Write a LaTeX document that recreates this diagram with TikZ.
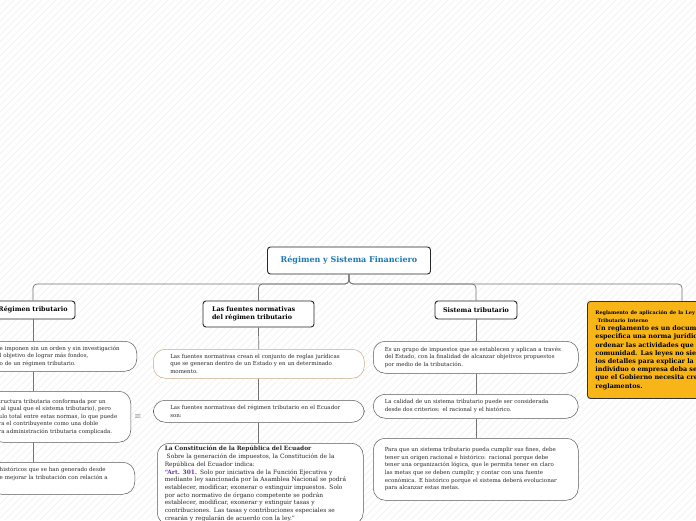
\documentclass[tikz,border=0pt]{standalone}
\usepackage{fontspec}
\setmainfont{DejaVu Serif}
\usepackage{xcolor}
\usetikzlibrary{positioning, calc}

\definecolor{titleblue}{RGB}{28,120,182}
\definecolor{artpurple}{RGB}{112,48,160}
\definecolor{noteyellow}{RGB}{247,181,24}
\definecolor{tanline}{RGB}{200,170,130}

\begin{document}
\begin{tikzpicture}[
        x=1pt, y=-1pt,
        topic/.style={rectangle, draw=black!85, line width=0.9pt, rounded corners=3pt, fill=white, align=center, font=\bfseries\fontsize{6.4}{8}\selectfont},
        leaf/.style={rectangle, draw=black!65, line width=0.5pt, rounded corners=12pt, fill=white, align=left, inner ysep=3pt, text=black!85, font=\fontsize{5.5}{7.6}\selectfont},
        link/.style={draw=black!55, line width=0.7pt},
        hatch/.style={draw=black!6, line width=0.4pt}
    ]

    \useasboundingbox (0,0) rectangle (696,520);
    \clip (0,0) rectangle (696,520);
    \fill[white] (0,0) rectangle (696,520);
    \foreach \i in {-520,-513,...,700}
        \draw[hatch] (\i,520) -- (\i+520,0);

    \node (root) [topic, minimum width=163pt, minimum height=27pt, text=titleblue, font=\bfseries\fontsize{8}{10}\selectfont] at (349,260.5) {Régimen y Sistema Financiero};

    \node (regimen) [topic, minimum width=84pt, minimum height=18pt] at (33,310) {Régimen tributario};
    \node (fuentes) [topic, text width=93pt, inner xsep=9pt, minimum height=26pt, align=left] at (258.5,314) {Las fuentes normativas\\del régimen tributario};
    \node (sistema) [topic, minimum width=82pt, minimum height=18pt] at (476,310) {Sistema tributario};
    \node (reglamento) [topic, fill=noteyellow, draw=black!80, anchor=north west, text width=260pt, inner xsep=8pt, minimum height=97pt, align=left, font=\bfseries\fontsize{6.4}{8.2}\selectfont] at (587,301) {{\fontsize{4.9}{6}\selectfont Reglamento de aplicación de la Ley de Régimen\\~Tributario Interno}\\Un reglamento es un documento que\\especifica una norma jurídica para\\ordenar las actividades que se dan en la\\comunidad. Las leyes no siempre tienen\\los detalles para explicar la manera en que un\\individuo o empresa deba seguir la ley, por lo\\que el Gobierno necesita crear\\reglamentos.};
    \coordinate (reglamentotop) at ($(reglamento.north west)+(95,0)$);

    \node (reg1) [leaf, anchor=north east, text width=125pt, inner xsep=12pt, minimum height=30pt] at (137,341) {\leavevmode\llap{Los impuestos s}e imponen sin un orden y sin investigación\\\leavevmode\llap{con e}l objetivo de lograr más fondos,\\\leavevmode\llap{sin estar dentr}o de un régimen tributario.};
    \node (reg2) [leaf, anchor=north east, text width=124pt, inner xsep=8pt, minimum height=51pt] at (131,391) {\leavevmode\llap{Es una es}tructura tributaria conformada por un\\\leavevmode\llap{conjunto de normas }(al igual que el sistema tributario), pero\\\leavevmode\llap{sin un vínc}ulo total entre estas normas, lo que puede\\\leavevmode\llap{percibirse pa}ra el contribuyente como una doble\\\leavevmode\llap{tributación y una futu}ra administración tributaria complicada.};
    \node (notes) [text=black!70, font=\fontsize{8}{8}\selectfont] at (138,417) {$\equiv$};
    \node (reg3) [leaf, anchor=north east, text width=125pt, inner xsep=10pt, minimum height=32pt] at (135,462) {\leavevmode\llap{Son los cambios }históricos que se han generado desde\\\leavevmode\llap{la necesidad d}e mejorar la tributación con relación a\\\leavevmode\llap{otros países.}\strut};

    \node (fue1) [leaf, anchor=north west, draw=tanline, text width=177pt, inner xsep=17pt, minimum height=29pt] at (153,349) {Las fuentes normativas crean el conjunto de reglas jurídicas\\que se generan dentro de un Estado y en un determinado\\momento.};
    \node (fue2) [leaf, anchor=north west, text width=177pt, inner xsep=17pt, minimum height=22pt] at (153,400) {Las fuentes normativas del régimen tributario en el Ecuador\\son:};
    \node (fue3) [leaf, anchor=north west, text width=191pt, inner xsep=7.5pt, inner ysep=3pt, font=\fontsize{5.9}{7.7}\selectfont] at (157,443) {\textbf{La Constitución de la República del Ecuador}\\~Sobre la generación de impuestos, la Constitución de la\\República del Ecuador indica:\\{\color{artpurple}\textbf{“Art. 301.}} Solo por iniciativa de la Función Ejecutiva y\\\mbox{mediante ley sancionada por la Asamblea Nacional se podrá}\\establecer, modificar, exonerar o extinguir impuestos. Solo\\por acto normativo de órgano competente se podrán\\establecer, modificar, exonerar y extinguir tasas y\\contribuciones. Las tasas y contribuciones especiales se\\crearán y regularán de acuerdo con la ley.”};

    \node (sis1) [leaf, anchor=north west, text width=182pt, inner xsep=11.5pt, minimum height=32pt] at (373,341) {Es un grupo de impuestos que se establecen y aplican a través\\del Estado, con la finalidad de alcanzar objetivos propuestos\\por medio de la tributación.};
    \node (sis2) [leaf, anchor=north west, text width=182pt, inner xsep=11.5pt, minimum height=24pt] at (373,394) {La calidad de un sistema tributario puede ser considerada\\desde dos criterios: el racional y el histórico.};
    \node (sis3) [leaf, anchor=north west, text width=182pt, inner xsep=11.5pt, minimum height=62pt] at (373,438) {Para que un sistema tributario pueda cumplir sus fines, debe\\tener un origen racional e histórico: racional porque debe\\tener una organización lógica, que le permita tener en claro\\las metas que se deben cumplir, y contar con una fuente\\económica. E histórico porque el sistema deberá evolucionar\\para alcanzar estas metas.};

    \draw[link, rounded corners=4pt] (root.south) -- ++(0,9.5) -| (regimen.north);
    \draw[link, rounded corners=4pt] (root.south) -- ++(0,9.5) -| (fuentes.north);
    \draw[link, rounded corners=4pt] (root.south) -- ++(0,9.5) -| (sistema.north);
    \draw[link, rounded corners=4pt] (root.south) -- ++(0,9.5) -| (reglamentotop);

    \draw[link] (regimen.south) -- (regimen.south |- reg1.north);
    \draw[link] (regimen.south |- reg1.south) -- (regimen.south |- reg2.north);
    \draw[link] (regimen.south |- reg2.south) -- (regimen.south |- reg3.north);

    \draw[link] (fuentes.south) -- (fue1.north);
    \draw[link] (fue1.south) -- (fue2.north);
    \draw[link] (fue2.south) -- (fue2.south |- fue3.north);

    \draw[link] (sistema.south) -- (sistema.south |- sis1.north);
    \draw[link] (sistema.south |- sis1.south) -- (sistema.south |- sis2.north);
    \draw[link] (sistema.south |- sis2.south) -- (sistema.south |- sis3.north);

\end{tikzpicture}
\end{document}
